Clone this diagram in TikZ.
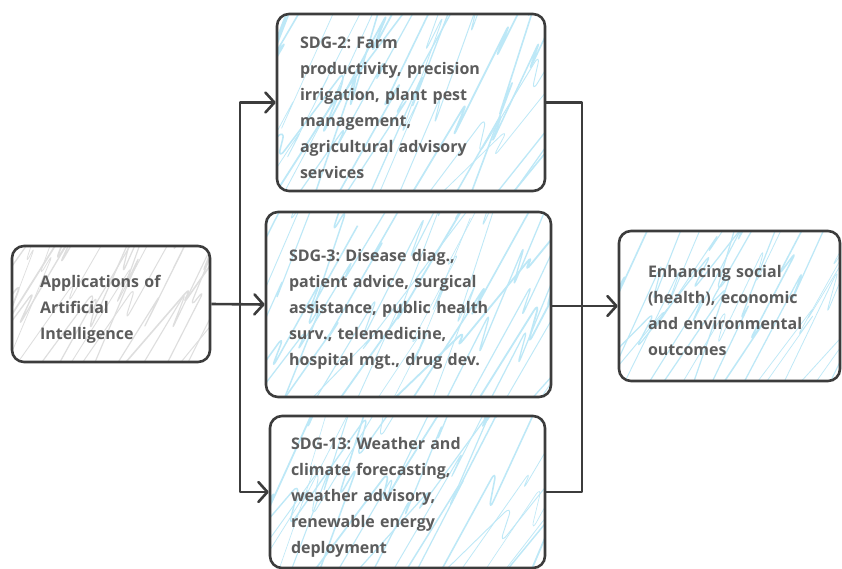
\documentclass[tikz,border=0pt]{standalone}
\usepackage{fontspec}
\setmainfont{Open Sans}
\usetikzlibrary{arrows.meta,calc}
\definecolor{ink}{HTML}{3C3C3C}
\definecolor{txt}{HTML}{5C5C5C}
\definecolor{hblue}{HTML}{BDE8F7}
\definecolor{hgray}{HTML}{DEDEDE}
\newcommand\myhatch[1]{%
  \foreach \i in {1,...,24}{%
    \pgfmathsetmacro\xo{-110+\i*15.5+rnd*16}%
    \pgfmathsetmacro\dxa{40+rnd*40}%
    \pgfmathsetmacro\dya{70+rnd*60}%
    \pgfmathsetmacro\bx{8+rnd*14}%
    \pgfmathsetmacro\by{20+rnd*30}%
    \pgfmathsetmacro\lw{0.6+rnd*1.2}%
    \draw[#1,line width=\lw pt,line join=round]
      ($(path picture bounding box.south west)+(\xo pt,-8pt)$) -- ++(\dxa pt,\dya pt) -- ++(-\bx pt,-\by pt) -- ++(\dxa pt,\dya pt+20pt) -- ++(-\bx pt,-\by pt) -- ++(\dxa pt,\dya pt+20pt);
  }%
}
\tikzset{
  box/.style={draw=ink,line width=2.6pt,rounded corners=12pt,fill=white,
    align=left,text=txt,font=\bfseries\fontsize{16}{26}\selectfont,inner ysep=4pt,
    execute at begin node={\rule{0pt}{22pt}}},
  bluebox/.style={box,path picture={\myhatch{hblue}}},
  graybox/.style={box,path picture={\myhatch{hgray}}},
  conn/.style={draw=ink,line width=2.6pt,line join=round},
  arr/.style={conn,-{Straight Barb[length=9pt,width=20pt,line width=2.6pt,round]}},
}
\begin{document}
\frenchspacing
\begin{tikzpicture}[x=1pt,y=-1pt]
\pgfmathsetseed{11}
\useasboundingbox (0,0) rectangle (842,568);
\clip (0,0) rectangle (842,568);
\node[graybox,minimum width=198pt,minimum height=116pt,inner xsep=28pt,text width=142pt] (ai) at (111,304)
  {Applications of\\Artificial\\Intelligence};
\node[bluebox,minimum width=268pt,minimum height=177pt,inner xsep=23pt,text width=222pt] (sdg2) at (411,102.5)
  {SDG-2: Farm\\productivity, precision\\irrigation, plant pest\\management,\\agricultural advisory\\services};
\node[bluebox,minimum width=285pt,minimum height=185pt,inner xsep=23pt,text width=239pt] (sdg3) at (408.5,304.5)
  {SDG-3: Disease diag.,\\patient advice, surgical\\assistance, public health\\surv., telemedicine,\\hospital mgt., drug dev.};
\node[bluebox,minimum width=275pt,minimum height=152pt,inner xsep=21pt,text width=233pt] (sdg13) at (407.5,492)
  {SDG-13: Weather and\\climate forecasting,\\weather advisory,\\renewable energy\\deployment};
\node[bluebox,minimum width=221pt,minimum height=150pt,inner xsep=29pt,text width=163pt] (out) at (729.5,306)
  {Enhancing social\\(health), economic\\and environmental\\outcomes};
\coordinate (lj) at (240,304);
\coordinate (rj) at (582,304);
\draw[arr] (ai.east) -- (sdg3.west);
\draw[arr] (lj) |- (sdg2.west);
\draw[arr] (lj) |- (sdg13.west);
\draw[conn] (sdg2.east) -| (rj) |- (sdg13.east);
\draw[arr] (sdg3.east |- out.west) -- (out.west);
\end{tikzpicture}
\end{document}
